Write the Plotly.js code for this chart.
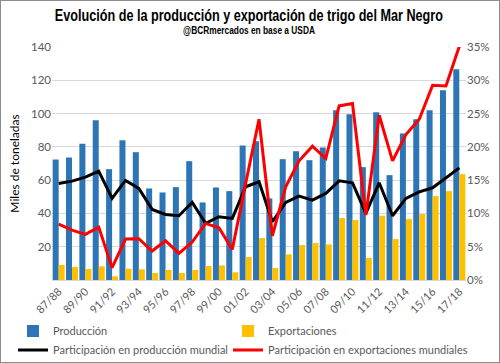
<!DOCTYPE html>
<html><head><meta charset="utf-8">
<script src="https://cdn.plot.ly/plotly-3.0.1.min.js"></script>
<style>
html,body{margin:0;padding:0;background:#fff;}
#wrap{position:relative;width:500px;height:363px;}
#frame{position:absolute;left:0;top:0;width:498px;height:361px;border:1px solid #8c8c8c;pointer-events:none;}
</style>
</head><body>
<div id="wrap"><div id="chart" style="width:500px;height:363px;"></div><div id="frame"></div></div>
<script>
const seasons = ["87/88","88/89","89/90","90/91","91/92","92/93","93/94","94/95","95/96","96/97","97/98","98/99","99/00","00/01","01/02","02/03","03/04","04/05","05/06","06/07","07/08","08/09","09/10","10/11","11/12","12/13","13/14","14/15","15/16","16/17","17/18"];
const produccion = [72.4,73.6,81.8,96,66.6,84,76.8,55,52.6,55.8,71.4,46.6,55.6,53.4,80.8,83.4,49,72.6,77.4,72,79.6,102,99.6,67.8,100.8,63,88,96.6,102,114,126.6];
const exportaciones = [9,7.8,6.6,8.2,2.2,6.8,6.4,4.2,6,4.2,6,8.4,8.8,4.6,13.8,25.2,7.2,15.4,21,22.2,21.4,37.2,36,13.2,38.6,24.6,36.6,39.6,50.4,53.4,63.6];
const partProduccion = [0.145,0.1485,0.1545,0.1635,0.1225,0.1495,0.1375,0.106,0.0985,0.0965,0.1165,0.085,0.095,0.0925,0.14,0.1475,0.0875,0.1165,0.126,0.12,0.13,0.149,0.146,0.10,0.146,0.0965,0.1225,0.1325,0.1385,0.1535,0.1685];
const partExportaciones = [0.084,0.075,0.0685,0.0795,0.0185,0.0615,0.062,0.0435,0.059,0.04,0.057,0.085,0.0785,0.046,0.145,0.2415,0.0665,0.14,0.179,0.201,0.1825,0.2615,0.265,0.0975,0.2475,0.179,0.2185,0.2415,0.2925,0.2915,0.351];
const tickLabels = seasons.filter((s,i)=>i%2===0);
const titleText = 'Evolución de la producción y exportación de trigo del Mar Negro';
const subtitleText = '@BCRmercados en base a USDA';

const txt = '#595959';
const fnt = 'Lato, "Open Sans", sans-serif';
const boldFont = '"Liberation Sans", Arial, sans-serif';
const data = [
  {type:'bar', name:'Producción', x:seasons, y:produccion, marker:{color:'#2E75B6'}, legend:'legend'},
  {type:'bar', name:'Exportaciones', x:seasons, y:exportaciones, marker:{color:'#FFC000'}, legend:'legend2'},
  {type:'scatter', mode:'lines', name:'Participación en producción mundial', x:seasons, y:partProduccion, yaxis:'y2', line:{color:'#000000', width:3}, legend:'legend3'},
  {type:'scatter', mode:'lines', name:'Participación en exportaciones mundiales', x:seasons, y:partExportaciones, yaxis:'y2', line:{color:'#FF0000', width:3}, legend:'legend4'}
];
const legendBase = {orientation:'h', xanchor:'left', yanchor:'middle', xref:'container', yref:'container',
  font:{size:11, color:txt}, itemwidth:30, bgcolor:'rgba(0,0,0,0)'};
const col1 = 0.026, col2 = 0.456, row1 = 0.088, row2 = 0.036;
const layout = {
  width:500, height:363,
  margin:{l:52, r:34, t:47, b:83, autoexpand:false},
  paper_bgcolor:'#fff', plot_bgcolor:'#fff',
  font:{family:fnt, size:11, color:txt},
  annotations:[
    {text:'<b>'+titleText+'</b>', xref:'paper', yref:'paper', x:0.477, y:1.137, xanchor:'center', yanchor:'middle', showarrow:false,
      font:{family:boldFont, size:16, color:'#000'}},
    {text:'<b>'+subtitleText+'</b>', xref:'paper', yref:'paper', x:0.477, y:1.073, xanchor:'center', yanchor:'middle', showarrow:false,
      font:{family:boldFont, size:11, color:'#000'}}
  ],
  barmode:'group', bargap:0.1, bargroupgap:0,
  xaxis:{type:'category', tickmode:'array', tickvals:tickLabels, ticktext:tickLabels, tickangle:-45, automargin:false,
    showgrid:false, showline:true, linecolor:'#D9D9D9', linewidth:1, ticks:'', tickfont:{size:11, color:txt}},
  yaxis:{range:[0,140], showgrid:true, gridcolor:'#D9D9D9', gridwidth:1, zeroline:false, ticks:'', automargin:false,
    tickmode:'array', tickvals:[20,40,60,80,100,120,140],
    title:{text:'Miles de toneladas', font:{size:12, color:'#000'}, standoff:8}, tickfont:{size:11.5, color:txt}},
  yaxis2:{overlaying:'y', side:'right', range:[0,0.35], dtick:0.05, tickformat:'.0%', showgrid:false, zeroline:false, ticks:'', automargin:false,
    tickfont:{size:11.5, color:txt}},
  legend:Object.assign({}, legendBase, {x:col1, y:row1}),
  legend2:Object.assign({}, legendBase, {x:col2, y:row1}),
  legend3:Object.assign({}, legendBase, {x:col1, y:row2}),
  legend4:Object.assign({}, legendBase, {x:col2, y:row2}),
  showlegend:true
};
Plotly.newPlot('chart', data, layout, {staticPlot:true, displayModeBar:false}).then(function(){
  // condense the bold title texts horizontally to mimic the narrow title font
  const scales = [0.79, 0.76];
  document.querySelectorAll('#chart .annotation-text').forEach(function(el, i){
    el.style.transformBox = 'fill-box';
    el.style.transformOrigin = 'center';
    el.style.transform = 'scaleX(' + (scales[i] || 1) + ')';
  });
});
</script>
</body></html>
